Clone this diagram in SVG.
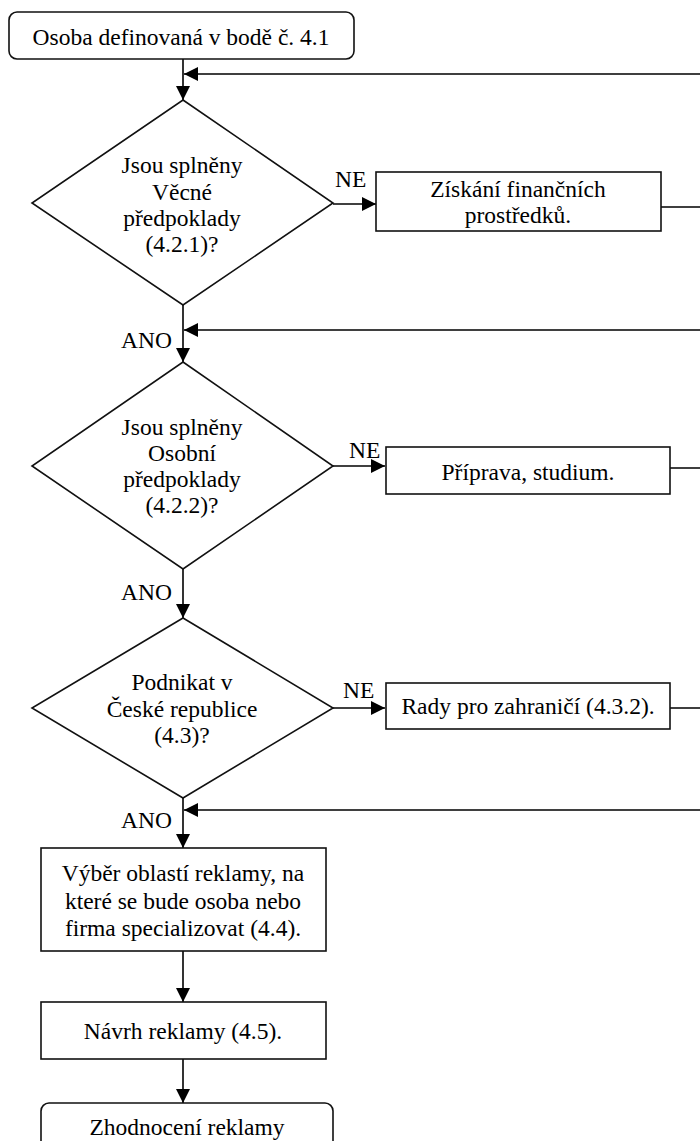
<svg xmlns="http://www.w3.org/2000/svg" width="700" height="1141" viewBox="0 0 700 1141" font-family="'Liberation Serif', 'Times New Roman', 'DejaVu Serif', serif" font-size="23.5">
<defs>
<marker id="arr" markerUnits="userSpaceOnUse" markerWidth="14" markerHeight="14" refX="14" refY="7" orient="auto">
<path d="M0,0 L14,7 L0,14 z" fill="#000"/>
</marker>
<style>
text{font-family:'Liberation Serif','Times New Roman','DejaVu Serif',serif;font-size:23.5px;fill:#000}
.c{text-anchor:middle}
.e{text-anchor:end}
.n{fill:#fff;stroke:#111;stroke-width:1.6}
.l{fill:none;stroke:#000;stroke-width:1.6;marker-end:url(#arr)}
</style>
</defs>
<rect width="700" height="1141" fill="#fff"/>
<g id="connectors">
<path class="l" d="M183,59 V100"/>
<path class="l" d="M661,207 H730 V74 H184"/>
<path class="l" d="M333,204 H376"/>
<path class="l" d="M183,305 V362"/>
<path class="l" d="M670,468 H730 V330 H184"/>
<path class="l" d="M333,466 H385"/>
<path class="l" d="M183,569 V618"/>
<path class="l" d="M333,708 H385"/>
<path class="l" d="M670,708 H730 V810 H184"/>
<path class="l" d="M183,798 V848"/>
<path class="l" d="M183,951 V1002"/>
<path class="l" d="M183,1059 V1103"/>
<text x="335" y="187">NE</text>
<text x="349" y="458">NE</text>
<text x="343" y="698">NE</text>
<text class="e" x="172" y="348">ANO</text>
<text class="e" x="172" y="600">ANO</text>
<text class="e" x="172" y="828">ANO</text>
</g>
<g id="start">
<rect class="n" x="9" y="12" width="345" height="47" rx="8"/>
<text class="c" x="181" y="45">Osoba definovaná v bodě č. 4.1</text>
</g>
<g id="d1">
<polygon class="n" points="183,100 333,203 183,305 32,203"/>
<text class="c" x="182" y="173">Jsou splněny</text>
<text class="c" x="182" y="200">Věcné</text>
<text class="c" x="182" y="226">předpoklady</text>
<text class="c" x="182" y="252">(4.2.1)?</text>
</g>
<g id="b1">
<rect class="n" x="376" y="172" width="285" height="59"/>
<text class="c" x="518" y="197">Získání finančních</text>
<text class="c" x="518" y="223">prostředků.</text>
</g>
<g id="d2">
<polygon class="n" points="183,362 333,466 183,569 32,466"/>
<text class="c" x="182" y="435">Jsou splněny</text>
<text class="c" x="182" y="461">Osobní</text>
<text class="c" x="182" y="487">předpoklady</text>
<text class="c" x="182" y="513">(4.2.2)?</text>
</g>
<g id="b2">
<rect class="n" x="386" y="447" width="284" height="47"/>
<text class="c" x="528" y="480">Příprava, studium.</text>
</g>
<g id="d3">
<polygon class="n" points="183,618 333,708 183,798 32,708"/>
<text class="c" x="182" y="690">Podnikat v</text>
<text class="c" x="182" y="717">České republice</text>
<text class="c" x="182" y="743">(4.3)?</text>
</g>
<g id="b3">
<rect class="n" x="386" y="683" width="284" height="46"/>
<text class="c" x="528" y="714">Rady pro zahraničí (4.3.2).</text>
</g>
<g id="b4">
<rect class="n" x="41" y="848" width="285" height="103"/>
<text class="c" x="183" y="881">Výběr oblastí reklamy, na</text>
<text class="c" x="183" y="909">které se bude osoba nebo</text>
<text class="c" x="183" y="936">firma specializovat (4.4).</text>
</g>
<g id="b5">
<rect class="n" x="41" y="1002" width="285" height="57"/>
<text class="c" x="183" y="1039">Návrh reklamy (4.5).</text>
</g>
<g id="end">
<rect class="n" x="41" y="1103" width="292" height="60" rx="8"/>
<text class="c" x="187" y="1135">Zhodnocení reklamy</text>
</g>
</svg>
